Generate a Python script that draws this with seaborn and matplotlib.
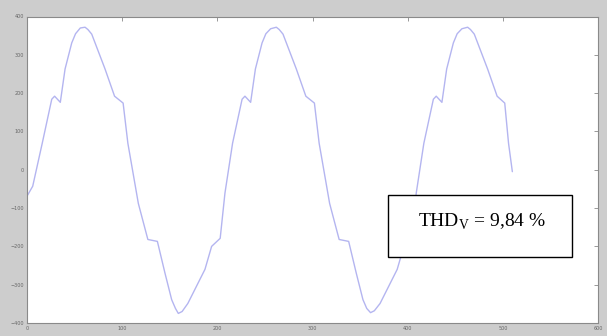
import numpy as np
import pandas as pd
import matplotlib
matplotlib.use("Agg")
import matplotlib.pyplot as plt
import seaborn as sns
from matplotlib.patches import Rectangle

# Sample index
x_vals = [0, 6, 16, 26, 29, 35, 40, 47, 51, 56, 61, 64, 68, 82, 92, 101, 106, 117, 127, 137, 145, 152, 156, 159, 163, 169, 187, 194, 203,
          208, 216, 226, 229, 235, 240, 247, 251, 256, 262, 265, 269, 283, 293, 302, 307, 318, 328, 338, 346, 353, 357, 361, 365, 371, 389, 396, 404,
          409, 417, 427, 430, 436, 441, 448, 452, 457, 463, 466, 470, 484, 494, 502, 506, 510]
# Voltage values
y_vals = [-69, -43, 69, 184, 192, 176, 263, 331, 355, 370, 372, 366, 354, 263, 192, 174, 69, -88, -182, -187, -270, -339, -362, -375, -370, -349, -260, -200, -179,
          -61, 69, 184, 192, 176, 263, 331, 355, 368, 372, 366, 354, 263, 192, 174, 69, -88, -182, -187, -270, -339, -362, -373, -368, -349, -260, -200, -179,
          -61, 69, 184, 192, 176, 263, 331, 355, 368, 372, 366, 354, 263, 192, 174, 69, -5]

x_ticks = [0, 100, 200, 300, 400, 500, 600]
y_ticks = [-400, -300, -200, -100, 0, 100, 200, 300, 400]
annotation = "THD$_\\mathregular{V}$ = 9,84 %"

df = pd.DataFrame({"n": x_vals, "v": y_vals})

sns.set_theme(style="white")
plt.rcParams["font.family"] = ["DejaVu Sans"]

W, H = 607, 336
fig = plt.figure(figsize=(W / 100, H / 100), dpi=100, facecolor="#cdcdcd")
ax = fig.add_axes([27 / W, 1 - 323 / H, (598 - 27) / W, (323 - 16.5) / H])
ax.set_facecolor("white")

sns.lineplot(data=df, x="n", y="v", ax=ax, color="#b4b5f0", linewidth=1.0)

ax.set_xlim(0, 600)
ax.set_ylim(-400, 400)
ax.set_xticks(x_ticks)
ax.set_yticks(y_ticks)
ax.set_xlabel("")
ax.set_ylabel("")
ax.tick_params(direction="in", length=3, width=0.6, colors="#888888", labelcolor="#666666",
               labelsize=3.5, top=True, right=True, pad=2)
for s in ax.spines.values():
    s.set_color("#8a8a8a")
    s.set_linewidth(0.8)

# annotation box
fig.patches.append(Rectangle((388 / W, 1 - 257 / H), (572 - 388) / W, (257 - 195) / H,
                             transform=fig.transFigure, facecolor="white", edgecolor="black",
                             linewidth=1.0, zorder=5))
plt.rcParams["mathtext.fontset"] = "custom"
plt.rcParams["mathtext.rm"] = "Liberation Serif"
fig.text(482 / W, 1 - 222 / H, annotation, ha="center", va="center",
         fontsize=14, family="Liberation Serif", color="black", zorder=6)

fig.savefig("out.png", dpi=100, facecolor=fig.get_facecolor())
